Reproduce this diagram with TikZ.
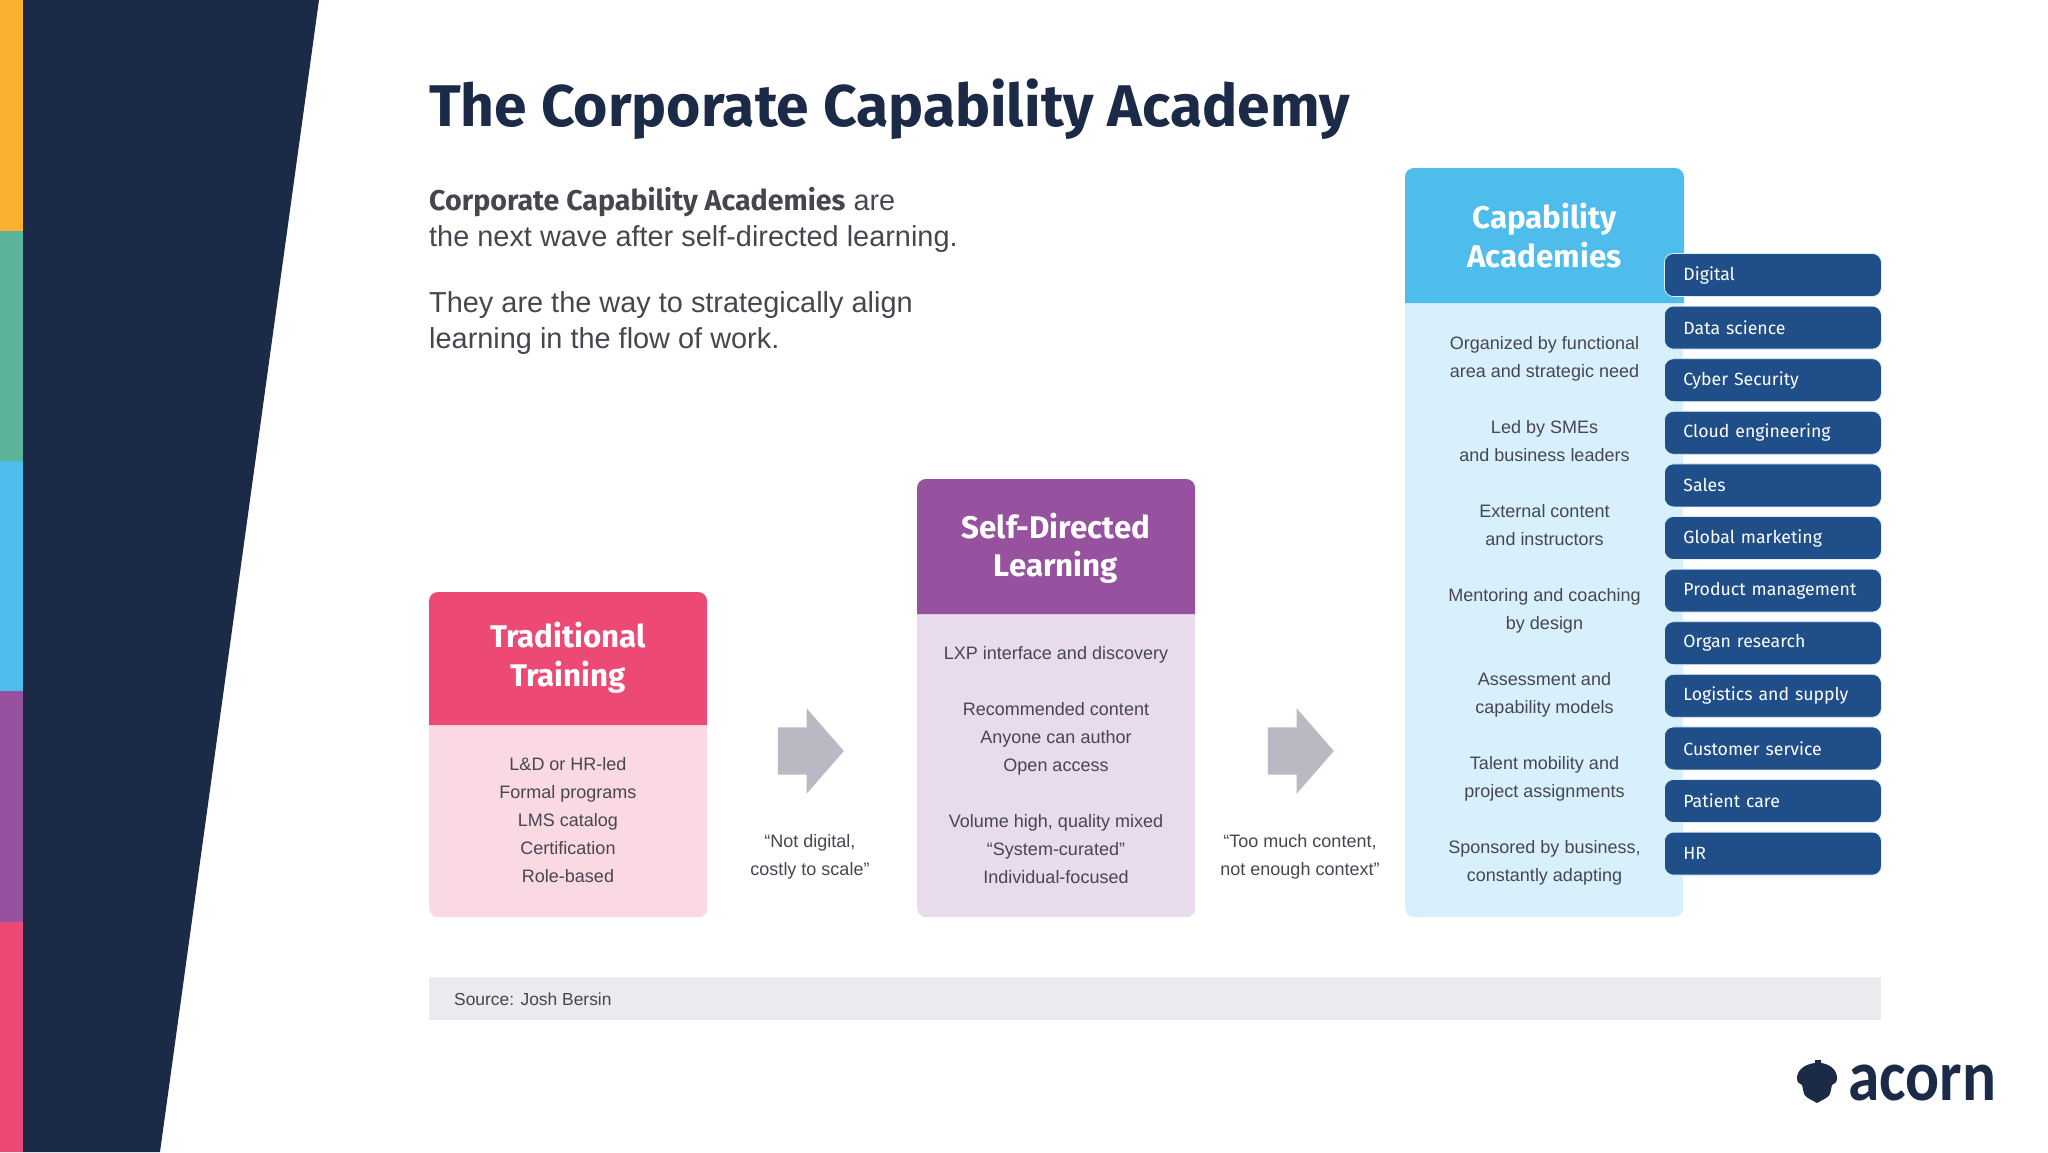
\documentclass[tikz,border=0pt]{standalone}
\usepackage{fontspec}
\setmainfont{Liberation Sans}
\newfontfamily\headfont{Fira Sans}
\newfontfamily\logofont[FakeStretch=0.88]{Carlito}
\usetikzlibrary{shapes.arrows, positioning, calc}
\definecolor{acornnavy}{RGB}{27, 42, 71}
\definecolor{stripeorange}{RGB}{251, 177, 48}
\definecolor{stripegreen}{RGB}{91, 180, 154}
\definecolor{stripeblue}{RGB}{79, 189, 236}
\definecolor{stripepurple}{RGB}{150, 81, 159}
\definecolor{stripepink}{RGB}{236, 74, 116}
\definecolor{tradbody}{RGB}{251, 217, 227}
\definecolor{selfbody}{RGB}{232, 219, 236}
\definecolor{capbody}{RGB}{216, 240, 251}
\definecolor{tagblue}{RGB}{31, 78, 136}
\definecolor{arrowgrey}{RGB}{185, 185, 195}
\definecolor{sourcegrey}{RGB}{236, 234, 238}
\definecolor{bodytext}{RGB}{70, 70, 80}

\begin{document}
\begin{tikzpicture}[
  x=1pt, y=-1pt,
  bodybox/.style={inner sep=0pt, rounded corners=9pt, minimum width=278pt, anchor=north west},
  headtext/.style={text=white, align=center, font=\headfont\bfseries\fontsize{31.3}{38.5}\selectfont},
  bodytxt/.style={text=bodytext, align=center, font=\fontsize{18}{28}\selectfont},
  introtxt/.style={text=bodytext, align=left, anchor=west, inner sep=0pt, font=\fontsize{28.9}{36.7}\selectfont},
  tagbox/.style={draw=capbody, line width=0.8pt, fill=tagblue, rounded corners=9pt, minimum width=217pt, minimum height=43pt, text width=179pt, inner xsep=19pt, inner ysep=0pt, align=left, anchor=west, text=white, font=\headfont\fontsize{17.7}{22}\selectfont},
  bigarrow/.style={single arrow, fill=arrowgrey, inner xsep=0pt, inner ysep=23.5pt, minimum height=66pt, minimum width=85pt, single arrow head extend=19pt, single arrow tip angle=98, anchor=center}
]
  \useasboundingbox (0,0) rectangle (2048,1152);

  % left band
  \fill[acornnavy] (0,0) -- (319,0) -- (160,1152) -- (0,1152) -- cycle;
  \fill[stripeorange] (0,0) rectangle (23,231);
  \fill[stripegreen] (0,231) rectangle (23,461);
  \fill[stripeblue] (0,461) rectangle (23,691);
  \fill[stripepurple] (0,691) rectangle (23,922);
  \fill[stripepink] (0,922) rectangle (23,1152);

  % title and intro
  \node[anchor=west, inner sep=0pt, text=acornnavy, font=\headfont\bfseries\fontsize{58.8}{62}\selectfont] (title) at (429, 109) {The Corporate Capability Academy};
  \node[introtxt] (intro1) at (429, 220) {{\headfont\bfseries\fontsize{28.6}{36.7}\selectfont Corporate Capability Academies} are\\the next wave after self-directed learning.};
  \node[introtxt] (intro2) at (429, 323) {They are the way to strategically align\\learning in the flow of work.};

  % traditional training
  \node[bodybox, fill=tradbody, minimum height=325pt] (tradbox) at (429, 592) {};
  \fill[stripepink, rounded corners=9pt] (429,725) [sharp corners] -- (707,725) [rounded corners=9pt] -- (707,592) -- (429,592) [sharp corners] -- (429,725) -- cycle;
  \node[headtext] (tradhead) at (568, 658) {Traditional\\Training};
  \node[bodytxt] (tradtext) at (568, 820.5) {L\&D or HR-led\\Formal programs\\LMS catalog\\Certification\\Role-based};

  % self-directed learning
  \node[bodybox, fill=selfbody, minimum height=438pt] (selfbox) at (917, 479) {};
  \fill[stripepurple, rounded corners=9pt] (917,614) [sharp corners] -- (1195,614) [rounded corners=9pt] -- (1195,479) -- (917,479) [sharp corners] -- (917,614) -- cycle;
  \node[headtext] (selfhead) at (1056, 548.5) {Self-Directed\\Learning};
  \node[bodytxt] (selftext) at (1056, 765.5) {LXP interface and discovery\\[28pt]Recommended content\\Anyone can author\\Open access\\[28pt]Volume high, quality mixed\\``System-curated''\\Individual-focused};

  % capability academies
  \node[bodybox, fill=capbody, minimum height=749pt] (capbox) at (1405, 168) {};
  \fill[stripeblue, rounded corners=9pt] (1405,303) [sharp corners] -- (1684,303) [rounded corners=9pt] -- (1684,168) -- (1405,168) [sharp corners] -- (1405,303) -- cycle;
  \node[headtext] (caphead) at (1544.5, 235.7) {Capability\\Academies};
  \node[bodytxt] (captext) at (1544.5, 610.5) {Organized by functional\\area and strategic need\\[28pt]Led by SMEs\\and business leaders\\[28pt]External content\\and instructors\\[28pt]Mentoring and coaching\\by design\\[28pt]Assessment and\\capability models\\[28pt]Talent mobility and\\project assignments\\[28pt]Sponsored by business,\\constantly adapting};

  \foreach \tagname [count=\i] in {Digital, Data science, Cyber Security, Cloud engineering, Sales, Global marketing, Product management, Organ research, Logistics and supply, Customer service, Patient care, HR}
    \node[tagbox] (tag\i) at (1664, {275+52.6*(\i-1)}) {\tagname};

  % arrows and quotes
  \node[bigarrow] (arrow1) at (800.5, 751) {};
  \node[bigarrow] (arrow2) at (1290.5, 751) {};
  \node[bodytxt] (quote1) at (810, 857) {``Not digital,\\costly to scale''};
  \node[bodytxt] (quote2) at (1300, 857) {``Too much content,\\not enough context''};

  % source bar
  \fill[sourcegrey] (429,977) rectangle (1881,1020);
  \node[anchor=west, inner sep=0pt, text=bodytext, font=\fontsize{17.4}{22}\selectfont] (source) at (454, 999.5) {Source: Josh Bersin};

  % logo
  \fill[acornnavy] (1815,1063) -- (1815,1060) -- (1821,1060) -- (1821,1063) .. controls (1830,1064) and (1837,1070) .. (1837,1078) .. controls (1837,1082) and (1835,1084) .. (1832,1085) -- (1830,1094) .. controls (1828,1098) and (1822,1100) .. (1817,1103) .. controls (1812,1100) and (1806,1098) .. (1804,1094) -- (1802,1085) .. controls (1799,1084) and (1797,1082) .. (1797,1078) .. controls (1797,1070) and (1805,1064) .. (1815,1063) -- cycle;
  \node[anchor=base west, inner sep=0pt, text=acornnavy, font=\logofont\bfseries\fontsize{72}{74}\selectfont] (logo) at (1848, 1100) {acorn};
\end{tikzpicture}
\end{document}
